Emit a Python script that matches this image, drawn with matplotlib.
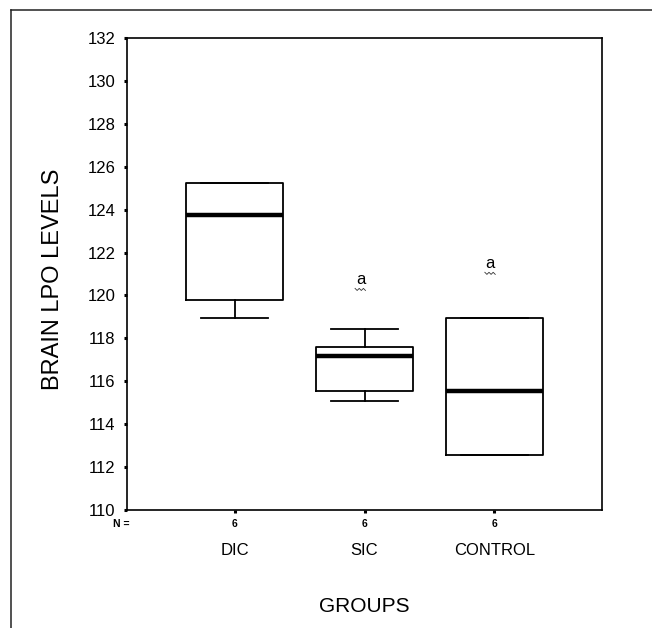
import matplotlib
matplotlib.use("Agg")
import matplotlib.pyplot as plt
from matplotlib.lines import Line2D

plt.rcParams['font.family'] = ['Liberation Sans', 'DejaVu Sans']

# ---- data ----
groups = ["DIC", "SIC", "CONTROL"]
counts = [6, 6, 6]
q1 = [119.80, 115.55, 112.55]
medians = [123.75, 117.20, 115.55]
q3 = [125.25, 117.60, 118.95]
whisker_low = [118.95, 115.10, 112.55]
whisker_high = [125.25, 118.45, 118.95]
sig_groups = ["SIC", "CONTROL"]
sig_labels = ["a", "a"]
sig_y = [120.75, 121.5]
yticks = list(range(110, 133, 2))

W, H = 652, 628
fig = plt.figure(figsize=(W / 100, H / 100), dpi=100)
ax = fig.add_axes([127 / W, 118 / H, 475 / W, 472 / H])

positions = [1, 2, 3]
stats = []
for g, a, m, b, lo, hi in zip(groups, q1, medians, q3, whisker_low, whisker_high):
    stats.append(dict(label=g, q1=a, med=m, q3=b, whislo=lo, whishi=hi, fliers=[]))

ax.bxp(stats, positions=positions, widths=0.745, capwidths=0.515,
       showfliers=False, patch_artist=False,
       boxprops=dict(color='black', linewidth=1.3),
       medianprops=dict(color='black', linewidth=3.2, solid_capstyle='butt'),
       whiskerprops=dict(color='black', linewidth=1.3),
       capprops=dict(color='black', linewidth=1.3))

ax.set_xlim(0.17, 3.83)
ax.set_ylim(110, 132)
ax.set_yticks(yticks)
ax.set_yticklabels([str(t) for t in yticks], fontsize=12)
ax.set_xticks(positions)
ax.set_xticklabels([str(c) for c in counts], fontsize=7.5, fontweight='bold')
ax.tick_params(axis='y', direction='out', length=2.2, width=2.2, pad=6, color='black')
ax.tick_params(axis='x', direction='out', length=2.2, width=2.2, pad=4, color='black')
for s in ax.spines.values():
    s.set_linewidth(1.2)
    s.set_color('black')

# "N =" label
ax.annotate("N =", xy=(0, 0), xycoords='axes fraction', xytext=(-10, -10),
            textcoords='offset points', fontsize=7.5, fontweight='bold',
            ha='left', va='center')

# category names
for p, g in zip(positions, groups):
    ax.annotate(g, xy=(p, 0), xycoords=('data', 'axes fraction'), xytext=(0, -29.5),
                textcoords='offset points', fontsize=12, ha='center', va='center')

# significance letters with wavy underline
fig.canvas.draw()
zx = [-4, -2.5, -1, 0.5, 2, 3.5]
zy = [-6.5, -8, -6.5, -8, -6.5, -8]
for g, lab, yv in zip(sig_groups, sig_labels, sig_y):
    p = positions[groups.index(g)] - 0.03
    ax.text(p, yv, lab, fontsize=12, ha='center', va='center')
    anchor = ax.transData.transform((p, yv))
    xs = [(anchor[0] + vx / 72.0 * fig.dpi) / W for vx in zx]
    ys = [(anchor[1] + vy / 72.0 * fig.dpi) / H for vy in zy]
    fig.add_artist(Line2D(xs, ys, transform=fig.transFigure, color='#333333', linewidth=0.6))

# axis titles
fig.text(53 / W, 1 - 279 / H, "BRAIN LPO LEVELS", rotation=90, fontsize=17,
         ha='center', va='center')
fig.text(364 / W, 1 - 607 / H, "GROUPS", fontsize=15, ha='center', va='center')

# outer frame (top and left)
fig.add_artist(Line2D([10.5 / W, 1.0], [1 - 9.5 / H, 1 - 9.5 / H],
                      transform=fig.transFigure, color='#222222', linewidth=1.1))
fig.add_artist(Line2D([10.5 / W, 10.5 / W], [1 - 9.5 / H, 0.0],
                      transform=fig.transFigure, color='#222222', linewidth=1.1))

fig.savefig("out.png", dpi=100)
